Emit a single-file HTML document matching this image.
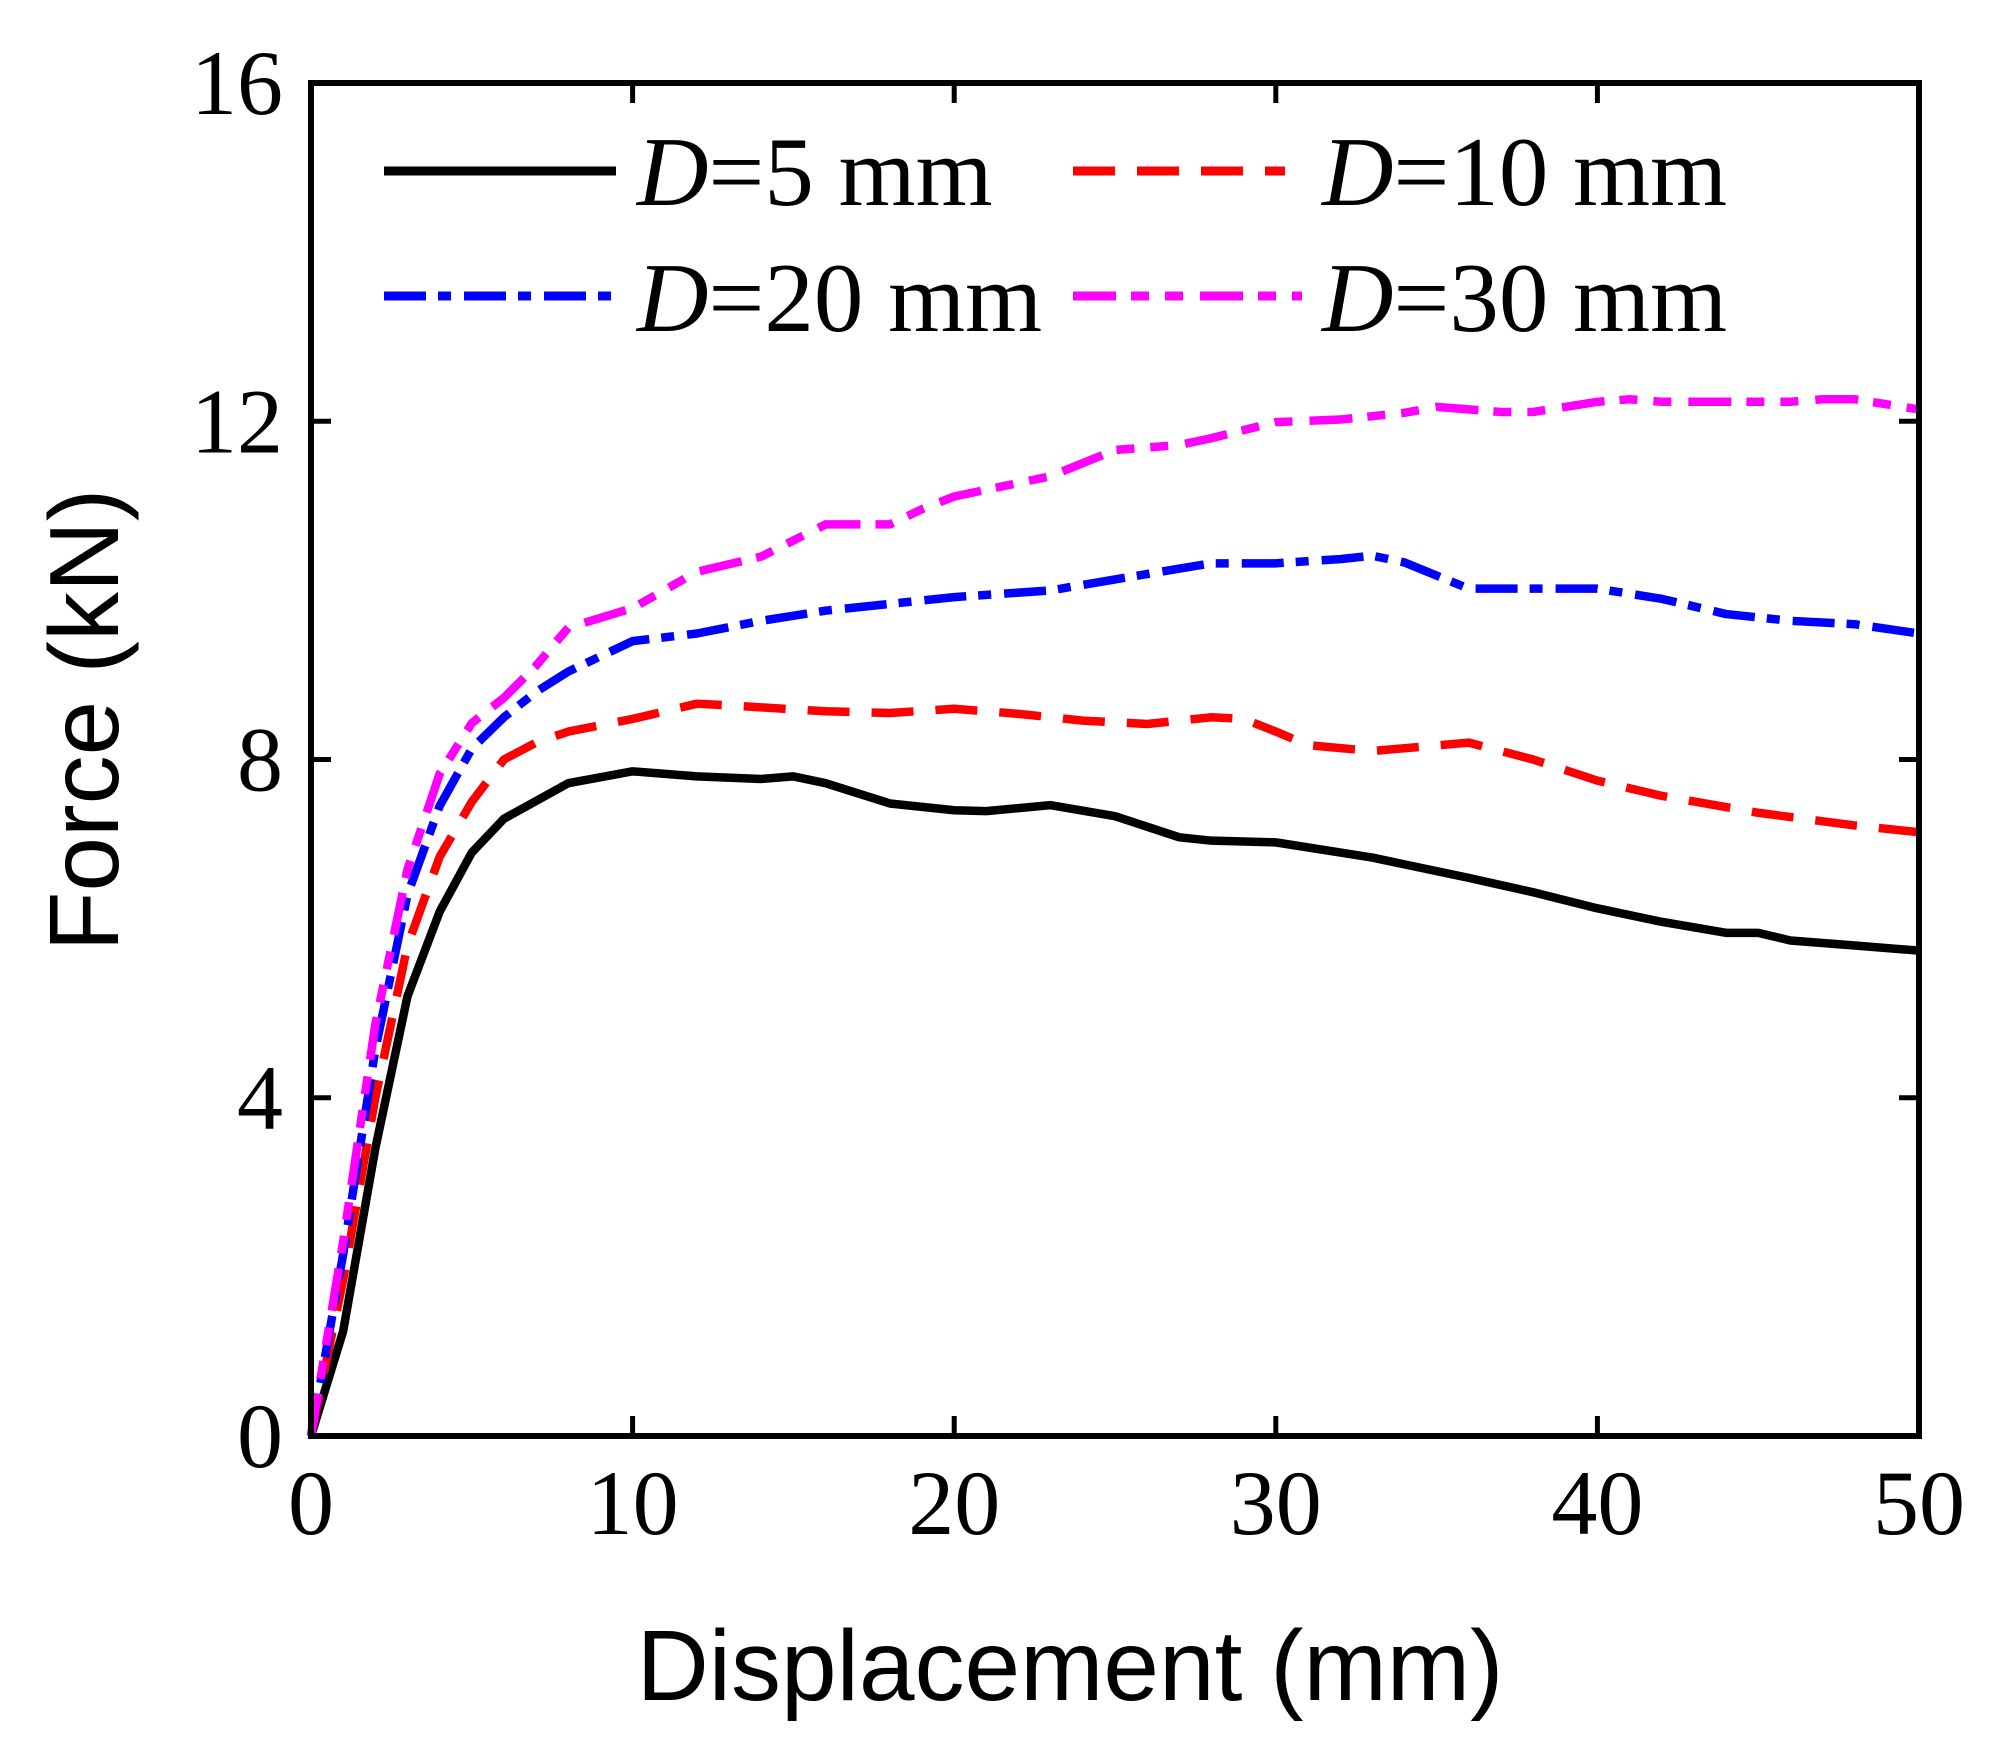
<!DOCTYPE html>
<html><head><meta charset="utf-8"><style>
html,body{margin:0;padding:0;background:#fff;}
svg{display:block;}
</style></head><body>
<svg id="chart" width="2005" height="1749" viewBox="0 0 2005 1749" xmlns="http://www.w3.org/2000/svg">
<g id="plot"></g>
</svg>
<script>
const xTicks=[0,10,20,30,40,50];
const yTicks=[0,4,8,12,16];
const x5=[0,1,2,3,4,5,6,8,10,12,14,15,16,18,20,21,23,25,27,28,30,33,36,38,40,42,44,45,46,48,50];
const y5=[0,1.24,3.4,5.2,6.2,6.9,7.3,7.72,7.86,7.8,7.77,7.8,7.72,7.48,7.4,7.39,7.46,7.33,7.08,7.04,7.02,6.84,6.6,6.43,6.24,6.08,5.95,5.95,5.86,5.8,5.74];
const x10=[0,1,2,3,4,5,6,7,8,10,12,13,16,18,20,22,24,26,28,29,30,31,33,36,38,40,42,45,48,50];
const y10=[0,1.85,4.0,5.8,6.85,7.5,8.0,8.2,8.33,8.48,8.66,8.64,8.57,8.55,8.6,8.54,8.46,8.42,8.5,8.48,8.33,8.17,8.1,8.2,8.0,7.75,7.57,7.37,7.22,7.14];
const x20=[0,1,2,3,4,5,6,7,8,10,12,14,16,18,20,23,25,28,30,32,33,34,36,38,40,42,44,46,48,50];
const y20=[0,2.15,4.57,6.4,7.45,8.13,8.5,8.8,9.04,9.4,9.49,9.64,9.76,9.84,9.92,10.0,10.13,10.32,10.32,10.37,10.41,10.33,10.02,10.02,10.02,9.9,9.72,9.64,9.6,9.49];
const x30=[0,1,2,3,4,5,6,7,8,10,12,14,16,18,19,20,23,25,27,28,30,32,34,35,37,38,40,41,42,46,47,48,50];
const y30=[0,2.3,4.87,6.7,7.83,8.43,8.73,9.11,9.56,9.79,10.22,10.4,10.78,10.78,10.96,11.11,11.35,11.66,11.72,11.8,11.99,12.02,12.1,12.17,12.11,12.11,12.23,12.26,12.23,12.23,12.26,12.26,12.14];

const NS='http://www.w3.org/2000/svg';
const g=document.getElementById('plot');
const L=311,R=1919,T=83,B=1436;
const sx=v=>L+(v-0)/(50-0)*(R-L);
const sy=v=>B-(v-0)/(16-0)*(B-T);
function mk(tag,attrs,parent){const e=document.createElementNS(NS,tag);for(const k in attrs)e.setAttribute(k,attrs[k]);(parent||g).appendChild(e);return e;}

function series(xs,ys,color,dash,name){
  const p=mk('polyline',{points:xs.map((x,i)=>sx(x)+','+sy(ys[i])).join(' '),fill:'none',stroke:color,'stroke-width':8.5,'stroke-linejoin':'round','stroke-dasharray':dash});
  
  
}
series(x5,y5,'#000','none','series-d5');
series(x10,y10,'#ff0000','42,22','series-d10');
series(x20,y20,'#0000ff','42,12,13,13','series-d20');
series(x30,y30,'#ff00ff','43,15,18,16,18,17','series-d30');

const fr=mk('rect',{x:L,y:T,width:R-L,height:B-T,fill:'none',stroke:'#000','stroke-width':6});



xTicks.forEach(v=>{
  const x=sx(v);
  mk('line',{x1:x,y1:B,x2:x,y2:B-20,stroke:'#000','stroke-width':5});
  mk('line',{x1:x,y1:T,x2:x,y2:T+20,stroke:'#000','stroke-width':5});
  const t=mk('text',{x:x,y:1534,'text-anchor':'middle','font-family':'Liberation Serif, serif','font-size':92});
  t.textContent=v;
  
  
});
yTicks.forEach(v=>{
  const y=sy(v);
  mk('line',{x1:L,y1:y,x2:L+20,y2:y,stroke:'#000','stroke-width':5});
  mk('line',{x1:R,y1:y,x2:R-20,y2:y,stroke:'#000','stroke-width':5});
  const t=mk('text',{x:283,y:y+31,'text-anchor':'end','font-family':'Liberation Serif, serif','font-size':92});
  t.textContent=v;
  
  
});

const xt=mk('text',{x:1070,y:1700,'text-anchor':'middle','font-family':'Liberation Sans, sans-serif','font-size':100});
xt.textContent='Displacement (mm)';


const yt=mk('text',{x:0,y:0,'text-anchor':'middle','font-family':'Liberation Sans, sans-serif','font-size':98,transform:'translate(118,720) rotate(-90)'});
yt.textContent='Force (kN)';



const leg=[
  {x1:384,x2:616,y:171,tx:637,ty:205,c:'#000',d:'none',n:'5'},
  {x1:1073,x2:1285,y:171,tx:1322,ty:205,c:'#ff0000',d:'42,22',n:'10'},
  {x1:384,x2:616,y:296,tx:637,ty:331,c:'#0000ff',d:'42,12,13,13',n:'20'},
  {x1:1073,x2:1302,y:296,tx:1322,ty:331,c:'#ff00ff',d:'43,15,18,16,18,17',n:'30'}
];
leg.forEach(e=>{
  const ln=mk('line',{x1:e.x1,y1:e.y,x2:e.x2,y2:e.y,stroke:e.c,'stroke-width':9,'stroke-dasharray':e.d});
  
  
  const t=mk('text',{x:e.tx,y:e.ty,'font-family':'Liberation Serif, serif','font-size':99});
  t.innerHTML='<tspan font-style="italic">D</tspan>='+e.n+' mm';
  
  
});
</script>
</body></html>
